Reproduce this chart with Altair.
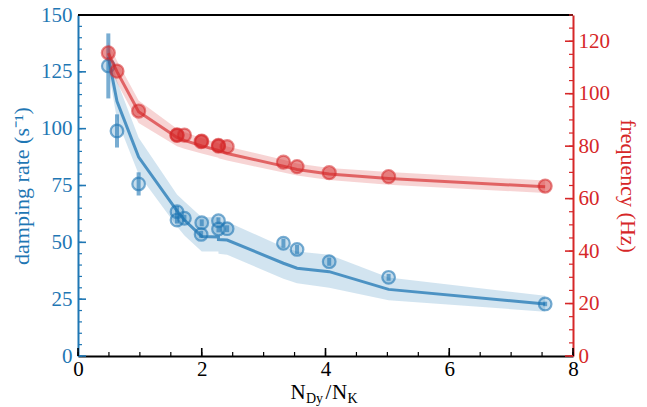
import altair as alt
import pandas as pd

# Measured damping rate and oscillation frequency versus the Dy/K atom-number ratio
ratio = [0.49, 0.63, 0.98, 1.60, 1.60, 1.72, 1.99, 2.00, 2.27, 2.27, 2.41, 3.32, 3.54, 4.06, 5.02, 7.55]
damping = [127.6, 99.0, 75.7, 63.5, 59.8, 60.6, 53.5, 58.6, 59.5, 55.9, 56.0, 49.6, 46.9, 41.5, 34.6, 22.9]
damping_err = [14.3, 7.3, 5.1, 2.5, 1.5, 1.5, 1.5, 1.5, 1.5, 1.5, 1.5, 2.0, 2.0, 1.8, 1.5, 1.0]
frequency = [115.6, 108.6, 93.4, 84.3, 84.1, 84.2, 81.7, 81.9, 80.3, 80.0, 79.8, 73.9, 72.2, 69.9, 68.4, 64.8]

# Theory curves with their uncertainty bands
fit_ratio = [0.49, 0.63, 0.98, 1.60, 1.72, 2.00, 2.27, 2.27, 2.41, 3.32, 3.54, 4.06, 5.02, 7.55]
damping_fit = [131.5, 112.0, 87.5, 63.8, 59.8, 52.6, 52.4, 51.2, 51.0, 40.8, 38.6, 37.1, 29.3, 22.9]
damping_lo = [126.0, 104.0, 80.0, 57.0, 53.0, 46.0, 46.0, 45.0, 44.5, 34.0, 32.0, 30.0, 24.5, 19.5]
damping_hi = [137.0, 121.0, 96.0, 71.0, 68.0, 61.0, 61.0, 59.0, 59.0, 48.0, 46.0, 44.5, 34.5, 26.5]
frequency_fit = [115.5, 108.4, 93.1, 83.3, 82.2, 80.1, 78.4, 78.2, 77.2, 72.4, 71.1, 69.4, 67.7, 64.5]
frequency_lo = [111.5, 104.2, 88.8, 80.0, 79.0, 77.2, 75.6, 75.4, 74.5, 70.0, 68.8, 67.1, 65.3, 62.1]
frequency_hi = [119.5, 112.6, 97.4, 86.6, 85.4, 83.0, 81.2, 81.0, 79.9, 74.8, 73.4, 71.7, 70.1, 66.9]

# Axis tick positions
x_major = [0, 2, 4, 6, 8]
x_minor = [0.5 * i for i in range(17)]
damping_major = [0, 25, 50, 75, 100, 125, 150]
damping_minor = list(range(0, 151, 5))
freq_major = [0, 20, 40, 60, 80, 100, 120]
freq_minor = list(range(0, 131, 5))

W, H = 495, 341
BLUE = "#1f77b4"
RED = "#d62728"
FONT = "Liberation Serif"

pts = pd.DataFrame({
    "ratio": ratio,
    "damping": damping,
    "err_lo": [d - e for d, e in zip(damping, damping_err)],
    "err_hi": [d + e for d, e in zip(damping, damping_err)],
    "frequency": frequency,
})
fit = pd.DataFrame({
    "ratio": fit_ratio,
    "order": list(range(len(fit_ratio))),
    "damping": damping_fit,
    "d_lo": damping_lo,
    "d_hi": damping_hi,
    "frequency": frequency_fit,
    "f_lo": frequency_lo,
    "f_hi": frequency_hi,
})


def xenc(field="ratio"):
    return alt.X(
        f"{field}:Q",
        scale=alt.Scale(domain=[0, 8], nice=False, zero=False),
        axis=alt.Axis(values=x_major, ticks=False, grid=False, title=None,
                      labelColor="black", domainColor="black", domainWidth=2,
                      labelPadding=2, labelFlush=False),
    )


def yleft(field):
    return alt.Y(
        f"{field}:Q",
        scale=alt.Scale(domain=[0, 150], nice=False),
        axis=alt.Axis(values=damping_major, ticks=False, grid=False, orient="left",
                      title="damping rate (s⁻¹)", titleColor=BLUE, labelColor=BLUE,
                      domainColor=BLUE, domainWidth=2, labelPadding=6, titlePadding=7),
    )


def yright(field):
    return alt.Y(
        f"{field}:Q",
        scale=alt.Scale(domain=[0, 130], nice=False),
        axis=alt.Axis(values=freq_major, ticks=False, grid=False, orient="right",
                      title="frequency (Hz)", titleColor=RED, labelColor=RED,
                      domainColor=RED, domainWidth=2, labelPadding=5, titlePadding=6),
    )


# ---- damping rate (left axis) ----
d_band = alt.Chart(fit).mark_area(color=BLUE, fillOpacity=0.2, line=False).encode(
    x=xenc(), y=yleft("d_lo"), y2=alt.Y2("d_hi"))
d_line = alt.Chart(fit).mark_line(color=BLUE, opacity=0.75, strokeWidth=3).encode(
    x=xenc(), y=yleft("damping"), order="order:Q")
d_err = alt.Chart(pts).mark_rule(color=BLUE, opacity=0.6, strokeWidth=4).encode(
    x=xenc(), y=yleft("err_lo"), y2="err_hi")
d_pts = alt.Chart(pts).mark_point(
    shape="circle", filled=True, size=160, fill=BLUE, fillOpacity=0.25,
    stroke=BLUE, strokeOpacity=0.6, strokeWidth=2.2).encode(
    x=xenc(), y=yleft("damping"))

d_minor = alt.Chart(pd.DataFrame({"v": damping_minor})).mark_rule(color=BLUE, strokeWidth=1.2).encode(
    y=yleft("v"), x=alt.value(0), x2=alt.value(4))
d_major = alt.Chart(pd.DataFrame({"v": damping_major})).mark_rule(color=BLUE, strokeWidth=1.6).encode(
    y=yleft("v"), x=alt.value(0), x2=alt.value(8))
x_minor_t = alt.Chart(pd.DataFrame({"v": x_minor})).mark_rule(color="black", strokeWidth=1.2).encode(
    x=xenc("v"), y=alt.value(H), y2=alt.value(H - 4))
x_major_t = alt.Chart(pd.DataFrame({"v": x_major})).mark_rule(color="black", strokeWidth=1.6).encode(
    x=xenc("v"), y=alt.value(H), y2=alt.value(H - 8))
top_spine = alt.Chart(pd.DataFrame({"v": [0]})).mark_rule(color="black", strokeWidth=2).encode(
    x=alt.value(0), x2=alt.value(W), y=alt.value(0))

# x-axis title with subscripts
title_parts = [
    ("N", 0.0, 0, 21),
    ("Dy", 15.5, 3.5, 14),
    ("/", 35.0, 0, 21),
    ("N", 41.5, 0, 21),
    ("K", 57.0, 3.5, 14),
]
title_left = W / 2 - 35
title_layers = [
    alt.Chart(pd.DataFrame({"t": [txt]})).mark_text(
        align="left", baseline="alphabetic", font=FONT, fontSize=fs, color="black").encode(
        text="t:N", x=alt.value(title_left + dx), y=alt.value(H + 43 + dy))
    for txt, dx, dy, fs in title_parts
]

blue = alt.layer(d_band, d_line, d_err, d_pts, d_minor, d_major,
                 x_minor_t, x_major_t, top_spine, *title_layers)

# ---- frequency (right axis) ----
f_band = alt.Chart(fit).mark_area(color=RED, fillOpacity=0.2, line=False).encode(
    x=xenc(), y=yright("f_lo"), y2=alt.Y2("f_hi"))
f_line = alt.Chart(fit).mark_line(color=RED, opacity=0.65, strokeWidth=3).encode(
    x=xenc(), y=yright("frequency"), order="order:Q")
f_pts = alt.Chart(pts).mark_point(
    shape="circle", filled=True, size=170, fill=RED, fillOpacity=0.5,
    stroke=RED, strokeOpacity=0.55, strokeWidth=2.2).encode(
    x=xenc(), y=yright("frequency"))
f_minor = alt.Chart(pd.DataFrame({"v": freq_minor})).mark_rule(color=RED, strokeWidth=1.2).encode(
    y=yright("v"), x=alt.value(W - 4), x2=alt.value(W))
f_major = alt.Chart(pd.DataFrame({"v": freq_major})).mark_rule(color=RED, strokeWidth=1.6).encode(
    y=yright("v"), x=alt.value(W - 8), x2=alt.value(W))

red = alt.layer(f_band, f_line, f_pts, f_minor, f_major)

chart = alt.layer(blue, red).resolve_scale(y="independent").properties(
    width=W, height=H,
    autosize=alt.AutoSizeParams(type="none"),
    padding={"left": 78, "top": 15, "right": 74, "bottom": 51},
).configure_view(stroke=None).configure_axis(
    labelFont=FONT, titleFont=FONT, labelFontSize=21, titleFontSize=22,
    titleFontWeight="normal",
)

chart.save("out.html", embed_options={"renderer": "svg", "actions": False})
